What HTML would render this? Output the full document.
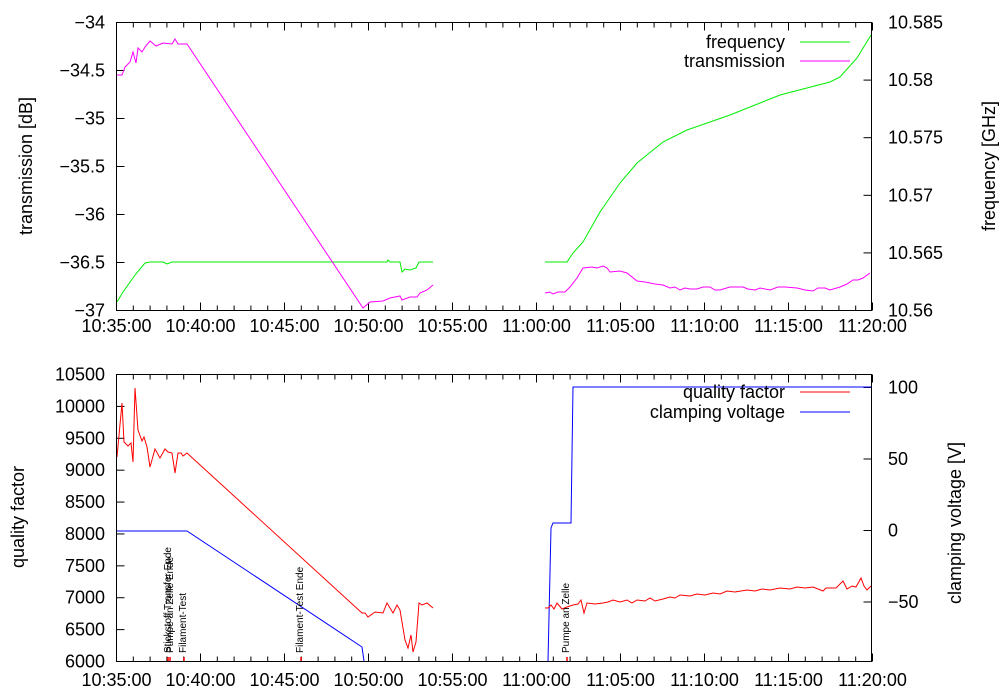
<!DOCTYPE html>
<html><head><meta charset="utf-8"><style>body{margin:0;background:#fff}svg{display:block}text{font-family:"Liberation Sans",sans-serif;fill:#000}</style></head><body>
<svg width="1000" height="700" viewBox="0 0 1000 700" xmlns="http://www.w3.org/2000/svg">
<g id="ticks" stroke="#000" stroke-width="1"></g>
<g fill="none" stroke-width="1">
<polyline stroke="#00ee00" points="117,302 123,292 135,275 145,263 150,262 163,262 167,264 172,262 387,262 388,260 390,262 400,262 402,272 405,269 410,270 416,268 419,262 433,262"/>
<polyline stroke="#00ee00" points="545,262 567,262 573,253 583,242 600,212 620,183 637,163 663,142 687,130 730,115 780,95 830,82 840,77 857,58 871,35"/>
<polyline stroke="#ff00ff" points="117,75 122,75 125,67 130,62 133,52 136,63 138,48 142,52 145,47 150,41 156,46 163,43 172,44 175,39 178,44 187,44 363,308 370,302 383,301 390,298 400,296 402,300 410,297 417,297 420,293 427,290 433,285"/>
<polyline stroke="#ff00ff" points="545,293 550,292 553,294 558,292 565,292 570,287 577,278 583,268 592,267 597,268 603,266 607,268 610,272 620,271 627,273 637,281 645,282 655,284 663,285 670,288 675,287 680,290 685,288 690,289 697,289 703,287 710,287 715,290 720,290 730,287 743,287 748,289 755,290 760,288 770,290 778,287 785,287 797,288 805,290 813,291 818,288 825,288 830,290 840,287 847,284 853,280 858,280 863,278 870,273"/>
<polyline stroke="#0000ff" points="117,531 187,531 362,647 364,661"/>
<polyline stroke="#0000ff" points="548,661 551,528 553,523 571,523 573,387 871,387"/>
<polyline stroke="#ff0000" points="117,457 122,403 124,442 128,446 131,443 133,462 135,388 138,430 142,441 144,437 147,447 150,467 155,449 160,458 165,449 168,452 172,453 175,473 178,453 181,453 183,456 187,453 362,613 365,613 368,617 375,612 383,613 387,603 393,613 397,605 400,610 405,640 408,648 411,635 413,652 416,642 419,603 422,605 427,603 433,608"/>
<polyline stroke="#ff0000" points="545,608 548,608 551,605 554,609 557,603 562,609 567,607 573,605 578,604 581,600 584,613 587,603 595,604 603,603 608,602 613,600 620,602 627,600 632,603 637,600 645,601 650,598 655,601 663,599 670,597 675,598 680,595 690,596 697,594 705,595 713,593 720,594 727,591 735,592 747,590 755,591 762,589 770,590 780,588 790,589 797,587 805,588 813,587 818,589 823,591 826,588 830,588 836,588 843,581 847,589 852,586 856,587 861,578 864,586 867,590 871,586"/>
<line stroke="#00ee00" x1="800" y1="42" x2="850" y2="42"/>
<line stroke="#ff00ff" x1="800" y1="61" x2="850" y2="61"/>
<line stroke="#ff0000" x1="800" y1="392" x2="850" y2="392"/>
<line stroke="#0000ff" x1="800" y1="412" x2="850" y2="412"/>
</g>
<g stroke="#ff0000" stroke-width="1.5">
<line x1="168" y1="657" x2="168" y2="661"/><line x1="170" y1="657" x2="170" y2="661"/><line x1="184" y1="657" x2="184" y2="661"/><line x1="301" y1="657" x2="301" y2="661"/><line x1="567" y1="657" x2="567" y2="661"/>
</g>
<rect x="116.5" y="22.5" width="755" height="288" fill="none" stroke="#000"/>
<rect x="116.5" y="374.5" width="755" height="287" fill="none" stroke="#000"/>
<g font-size="18">
<text x="785" y="48" text-anchor="end">frequency</text>
<text x="785" y="67" text-anchor="end">transmission</text>
<text x="785" y="398" text-anchor="end">quality factor</text>
<text x="785" y="418" text-anchor="end">clamping voltage</text>
<text transform="translate(32,166) rotate(-90)" text-anchor="middle">transmission [dB]</text>
<text transform="translate(995,166) rotate(-90)" text-anchor="middle">frequency [GHz]</text>
<text transform="translate(24,517) rotate(-90)" text-anchor="middle">quality factor</text>
<text transform="translate(961,523) rotate(-90)" text-anchor="middle">clamping voltage [V]</text>
</g>
<g font-size="10">
<text transform="translate(171,653) rotate(-90)">Stickstoff Transfer Ende</text>
<text transform="translate(173,653) rotate(-90)">Pumpe an Zelle Ende</text>
<text transform="translate(186,653) rotate(-90)">Filament-Test</text>
<text transform="translate(303,653) rotate(-90)">Filament-Test Ende</text>
<text transform="translate(569,653) rotate(-90)">Pumpe an Zelle</text>
</g>
<g id="labels" font-size="18"></g>
<script>
var t=document.getElementById('ticks'),l=document.getElementById('labels'),ns='http://www.w3.org/2000/svg';
function ln(a,b,c,d){var e=document.createElementNS(ns,'line');e.setAttribute('x1',a);e.setAttribute('y1',b);e.setAttribute('x2',c);e.setAttribute('y2',d);t.appendChild(e);}
function tx(x,y,s,a){var e=document.createElementNS(ns,'text');e.setAttribute('x',x);e.setAttribute('y',y);e.setAttribute('text-anchor',a);e.textContent=s;l.appendChild(e);}
var xl=['10:35:00','10:40:00','10:45:00','10:50:00','10:55:00','11:00:00','11:05:00','11:10:00','11:15:00','11:20:00'];
for(var m=0;m<=45;m++){var x=116.5+m*16.8;var L=(m%5==0)?8:5;
 [[22.5,310.5],[374.5,661.5]].forEach(function(p){ln(x,p[1],x,p[1]-L);ln(x,p[0],x,p[0]+L);});
 if(m%5==0){tx(x,332,xl[m/5],'middle');tx(x,686,xl[m/5],'middle');}}
var a=['-34','-34.5','-35','-35.5','-36','-36.5','-37'];
for(var i=0;i<7;i++){var y=22.5+i*48;ln(116.5,y,124.5,y);tx(105,y+6,a[i].replace('-','\u2212'),'end');}
var b=['10.585','10.58','10.575','10.57','10.565','10.56'];
for(var i=0;i<6;i++){var y=22.5+i*57.6;ln(871.5,y,863.5,y);tx(888,y+6,b[i],'start');}
for(var i=0;i<10;i++){var y=374.5+i*31.89;ln(116.5,y,124.5,y);tx(105,y+6,String(10500-i*500),'end');}
var c=[[100,387.5],[50,459],[0,530.5],[-50,602]];
c.forEach(function(q){ln(871.5,q[1],863.5,q[1]);tx(888,q[1]+6,String(q[0]).replace('-','\u2212'),'start');});
</script>
</svg>
</body></html>
